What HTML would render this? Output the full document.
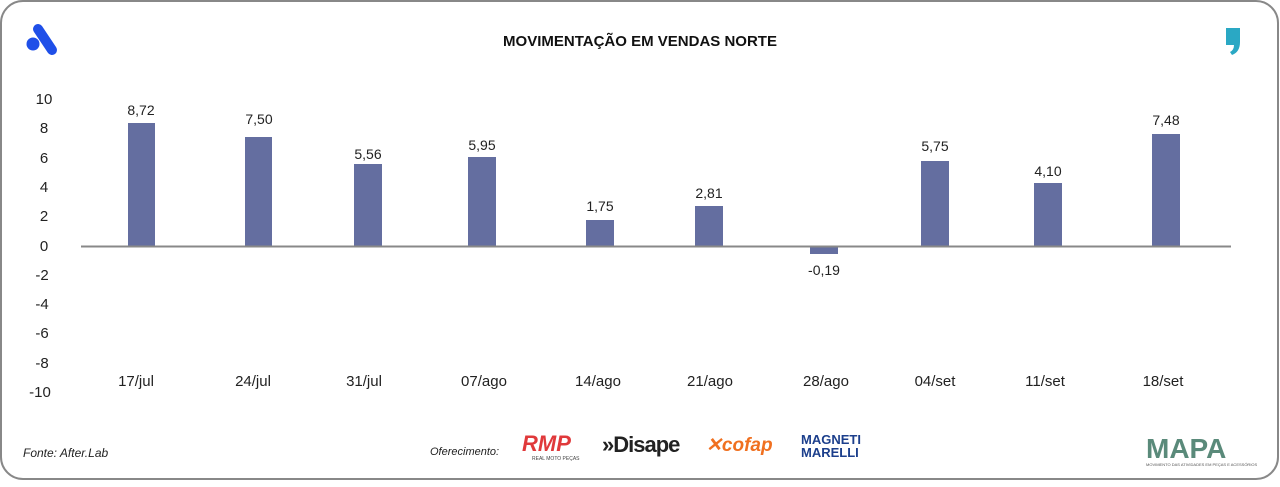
<!DOCTYPE html>
<html><head><meta charset="utf-8"><style>
body{margin:0;width:1280px;height:482px;background:#fff;overflow:hidden;font-family:"Liberation Sans",sans-serif}
</style></head><body>
<svg width="1280" height="482" xmlns="http://www.w3.org/2000/svg" font-family="Liberation Sans, sans-serif">
<rect x="1" y="1" width="1277" height="478" rx="22" fill="#fff" stroke="#888" stroke-width="2"/>
<g fill="#1f4fe8"><circle cx="33" cy="44" r="6.5"/><line x1="38" y1="29" x2="52" y2="50" stroke="#1f4fe8" stroke-width="10" stroke-linecap="round"/></g>
<path d="M1226 28h14v14q0 10-8 13l-2-3q4-2 4-7h-8z" fill="#2aa8c4"/>
<text x="640" y="46" text-anchor="middle" font-size="15" font-weight="bold" fill="#111">MOVIMENTAÇÃO EM VENDAS NORTE</text>
<g font-size="15" fill="#222" text-anchor="middle">
<text x="44" y="104">10</text><text x="44" y="133">8</text><text x="44" y="163">6</text><text x="44" y="192">4</text><text x="44" y="221">2</text><text x="44" y="251">0</text><text x="42" y="280">-2</text><text x="42" y="309">-4</text><text x="42" y="338">-6</text><text x="42" y="368">-8</text><text x="40" y="397">-10</text>
</g>
<g fill="#646ea0">
<rect x="128" y="123" width="27" height="123"/>
<rect x="245" y="137" width="27" height="109"/>
<rect x="354" y="164" width="28" height="82"/>
<rect x="468" y="157" width="28" height="89"/>
<rect x="586" y="220" width="28" height="26"/>
<rect x="695" y="206" width="28" height="40"/>
<rect x="810" y="246" width="28" height="8"/>
<rect x="921" y="161" width="28" height="85"/>
<rect x="1034" y="183" width="28" height="63"/>
<rect x="1152" y="134" width="28" height="112"/>
</g>
<line x1="81" y1="246.5" x2="1231" y2="246.5" stroke="#888" stroke-width="2"/>
<g font-size="14" fill="#222" text-anchor="middle">
<text x="141" y="115">8,72</text><text x="259" y="124">7,50</text><text x="368" y="159">5,56</text><text x="482" y="150">5,95</text><text x="600" y="211">1,75</text><text x="709" y="198">2,81</text><text x="824" y="275">-0,19</text><text x="935" y="151">5,75</text><text x="1048" y="176">4,10</text><text x="1166" y="125">7,48</text>
</g>
<g font-size="15" fill="#222" text-anchor="middle">
<text x="136" y="386">17/jul</text><text x="253" y="386">24/jul</text><text x="364" y="386">31/jul</text><text x="484" y="386">07/ago</text><text x="598" y="386">14/ago</text><text x="710" y="386">21/ago</text><text x="826" y="386">28/ago</text><text x="935" y="386">04/set</text><text x="1045" y="386">11/set</text><text x="1163" y="386">18/set</text>
</g>
<text x="23" y="457" font-size="12" font-style="italic" fill="#222">Fonte: After.Lab</text>
<text x="430" y="455" font-size="11" font-style="italic" fill="#222">Oferecimento:</text>
<text x="522" y="451" font-size="22" font-weight="bold" fill="#e0393b" font-style="italic">RMP</text>
<text x="532" y="460" font-size="5" fill="#444">REAL MOTO PEÇAS</text>
<text x="602" y="452" font-size="22" font-weight="bold" fill="#222" letter-spacing="-1">»Disape</text>
<text x="706" y="451" font-size="19" font-weight="bold" font-style="italic" fill="#f07020">✕cofap</text>
<text x="801" y="444" font-size="13" font-weight="bold" fill="#1c3f8c">MAGNETI</text>
<text x="801" y="457" font-size="13" font-weight="bold" fill="#1c3f8c">MARELLI</text>
<text x="1146" y="458" font-size="28" font-weight="bold" fill="#5a8a7a">MAPA</text>
<text x="1146" y="466" font-size="4" fill="#555">MOVIMENTO DAS ATIVIDADES EM PEÇAS E ACESSÓRIOS</text>
</svg>
</body></html>
